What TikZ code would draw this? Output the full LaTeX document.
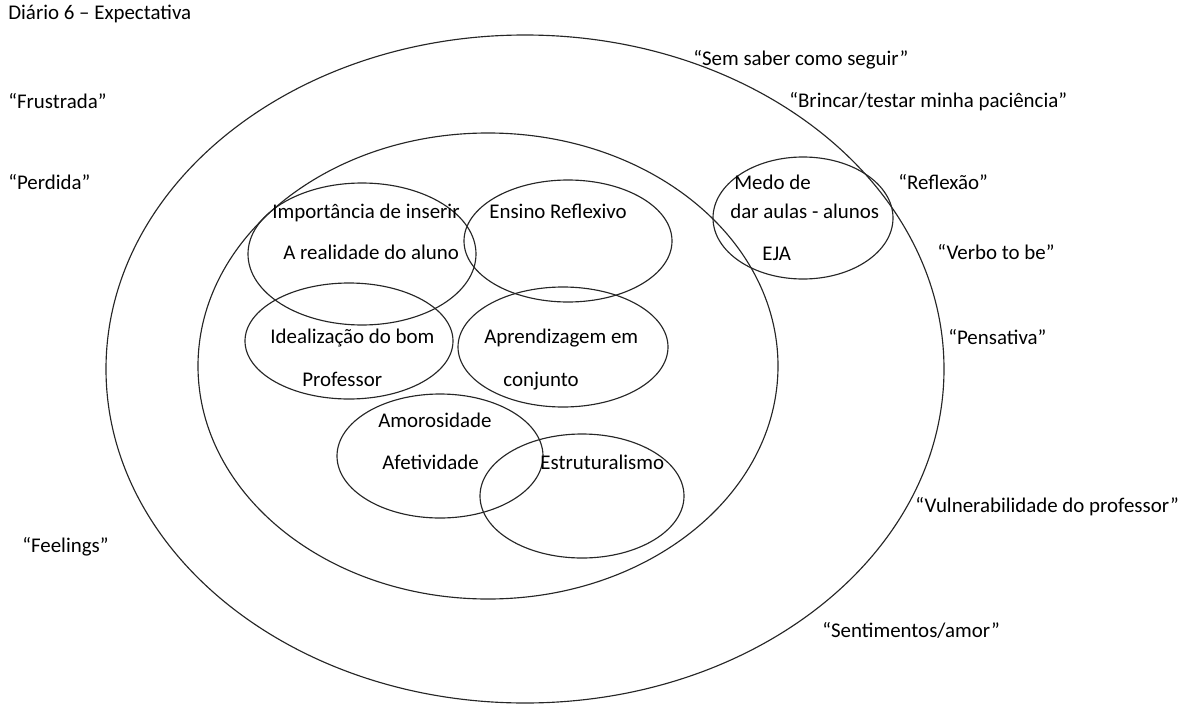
\documentclass[tikz,border=0pt]{standalone}
\usepackage{fontspec}
\setmainfont{Carlito}
\tikzset{
  ring/.style={draw, line width=0.65pt, black!85},
  word/.style={anchor=mid west, inner sep=0pt, font=\fontsize{11.9}{13}\selectfont},
}

\begin{document}
\begin{tikzpicture}[x=0.02cm, y=-0.02cm]
  \useasboundingbox (0,0) rectangle (1193,706);
  %% Outer rings
  \draw[ring] (525,369) ellipse [x radius=419, y radius=334];
  \draw[ring] (488,366) ellipse [x radius=290, y radius=233];
  %% Small circles
  \draw[ring] (362,254) ellipse [x radius=114, y radius=71];
  \draw[ring] (568,241) ellipse [x radius=104, y radius=61];
  \draw[ring] (349,341) ellipse [x radius=104, y radius=58];
  \draw[ring] (563,347) ellipse [x radius=105, y radius=60];
  \draw[ring] (440,456) ellipse [x radius=103, y radius=62];
  \draw[ring] (582,496) ellipse [x radius=102, y radius=62];
  \draw[ring] (803,218) ellipse [x radius=90, y radius=61];
  %% Title and quotes outside
  \node[word] (titulo) at (8,15) {Diário 6 – Expectativa};
  \node[word] (frustrada) at (8,104) {“Frustrada”};
  \node[word] (perdida) at (8,185) {“Perdida”};
  \node[word] (feelings) at (22,548) {“Feelings”};
  \node[word] (semsaber) at (693,61) {“Sem saber como seguir”};
  \node[word] (brincar) at (789,103) {“Brincar/testar minha paciência”};
  \node[word] (reflexao) at (898,185) {“Reflexão”};
  \node[word] (verbo) at (937,255) {“Verbo to be”};
  \node[word] (pensativa) at (948,340) {“Pensativa”};
  \node[word] (vulner) at (915,508) {“Vulnerabilidade do professor”};
  \node[word] (sentim) at (822,633) {“Sentimentos/amor”};
  %% Texts in the circles
  \node[word] (import) at (272,214) {Importância de inserir};
  \node[word] (realid) at (283,255) {A realidade do aluno};
  \node[word] (ensino) at (489,214) {Ensino Reflexivo};
  \node[word] (ideal) at (270,339) {Idealização do bom};
  \node[word] (profes) at (302,382) {Professor};
  \node[word] (aprend) at (484,339) {Aprendizagem em};
  \node[word] (conjun) at (503,382) {conjunto};
  \node[word] (amoros) at (378,423) {Amorosidade};
  \node[word] (afetiv) at (382,465) {Afetividade};
  \node[word] (estrut) at (540,465) {Estruturalismo};
  \node[word] (medo) at (734,185) {Medo de};
  \node[word] (aulas) at (730,214) {dar aulas - alunos};
  \node[word] (eja) at (762,256) {EJA};
\end{tikzpicture}
\end{document}
